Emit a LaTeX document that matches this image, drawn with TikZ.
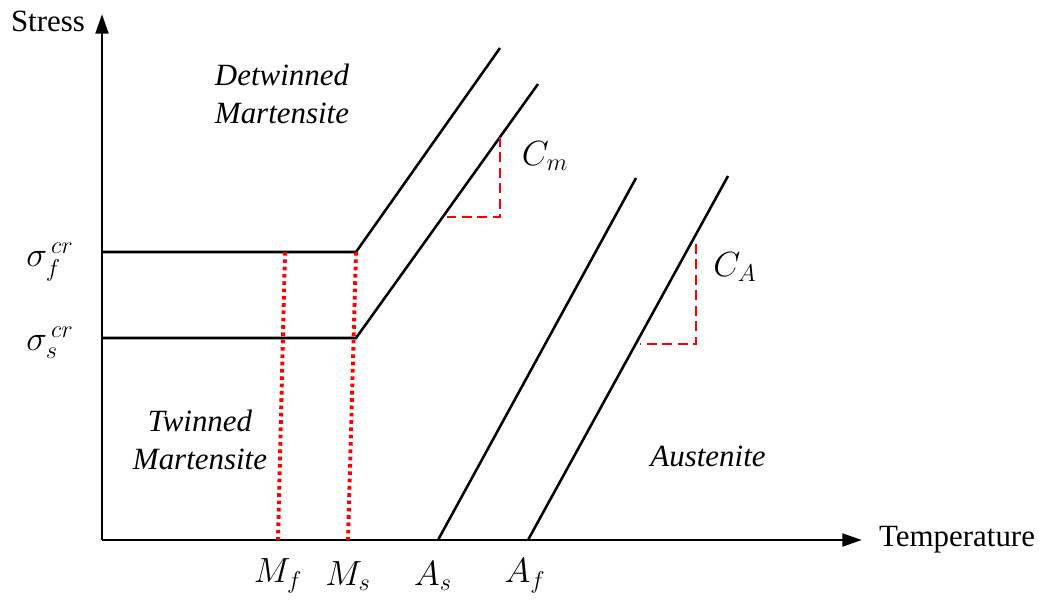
\documentclass[tikz,border=0pt]{standalone}
\usepackage{amsmath,amssymb}
\usepackage{fontspec}
\setmainfont{Liberation Serif}[ItalicFont={Liberation Serif Italic}]
\usepackage{tikz}
\usetikzlibrary{positioning,calc,arrows.meta}

\begin{document}
\begin{tikzpicture}[
    x=0.025cm, y=-0.025cm,
    axis/.style={line width=2.1pt, -{Triangle[length=14pt, width=9pt]}},
    curve/.style={line width=1.8pt},
    guide/.style={red, line width=2.8pt, dash pattern=on 2.6pt off 2.6pt},
    slope/.style={red, line width=1.9pt, dash pattern=on 7pt off 4pt},
    lbl/.style={font=\fontsize{22}{26}\selectfont},
    region/.style={font=\fontsize{22}{27}\selectfont\itshape, align=center},
    sym/.style={font=\fontsize{25}{28}\selectfont, inner sep=0pt}
]
    \useasboundingbox (0,0) rectangle (1043,601);

    % --- Axes ---
    \coordinate (o) at (102,540);
    \coordinate (ytip) at (102,14);
    \coordinate (xtip) at (862,540);
    \draw[axis] (o) -- (ytip);
    \draw[axis] (o) -- (xtip);
    \node[lbl] (stress) at (48,21) {Stress};
    \node[lbl] (temp) at (957,540) {Temperature};

    % --- Critical stresses ---
    \coordinate (yf) at (102,252);
    \coordinate (ys) at (102,338);
    \coordinate (kf) at (356,252);
    \coordinate (ks) at (356,338);
    \draw[curve] (yf) -- (kf) -- (500,48);
    \draw[curve] (ys) -- (ks) -- (538,84);
    \node[sym] (sf) at (50,262) {$\sigma_{f}^{\,cr}$};
    \node[sym] (ss) at (50,343) {$\sigma_{s}^{\,cr}$};

    % --- Austenite lines ---
    \coordinate (as) at (438,540);
    \coordinate (af) at (528,540);
    \draw[curve] (as) -- (636,178);
    \draw[curve] (af) -- (728,176);

    % --- Transformation temperatures ---
    \coordinate (mf) at (278,540);
    \coordinate (ms) at (348,540);
    \draw[guide] (285,252) -- (mf);
    \draw[guide] (kf) -- (ms);
    \node[sym] (mflbl) at (278,576) {$M_f$};
    \node[sym] (mslbl) at (348,576) {$M_s$};
    \node[sym] (aslbl) at (433,576) {$A_s$};
    \node[sym] (aflbl) at (525,576) {$A_f$};

    % --- Slopes ---
    \draw[slope] (500,137) -- (500,217) -- (447,217);
    \node[sym] (cm) at (545,156) {$C_m$};
    \draw[slope] (696,244) -- (696,344) -- (640,344);
    \node[sym] (ca) at (735,267) {$C_A$};

    % --- Regions ---
    \node[region] (det) at (282,94) {Detwinned\\Martensite};
    \node[region] (tw) at (200,440) {Twinned\\Martensite};
    \node[region] (aus) at (708,456) {Austenite};
\end{tikzpicture}
\end{document}
